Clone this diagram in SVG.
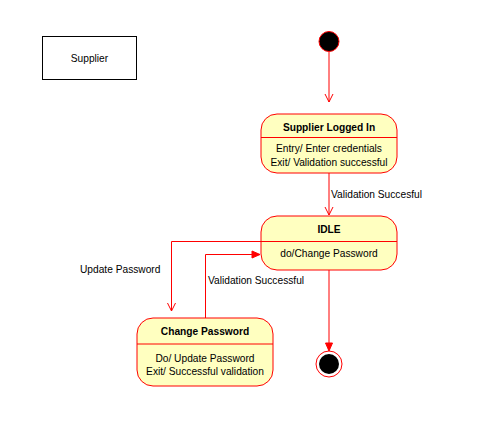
<svg xmlns="http://www.w3.org/2000/svg" width="499" height="443" viewBox="0 0 499 443">
<style>
.st{fill:#ffffc0;stroke:#ff0000;stroke-width:1}
.ln{stroke:#ff0000;stroke-width:1;fill:none}
.t{font-family:"Liberation Sans",Arial,sans-serif;font-size:10.2px;fill:#000}
.b{font-weight:bold}
.m{text-anchor:middle}
</style>
<defs>
<marker id="open" markerWidth="10" markerHeight="10" refX="9" refY="5" orient="auto" markerUnits="userSpaceOnUse">
<path d="M1,1 L9,5 L1,9" fill="none" stroke="#ff0000" stroke-width="1"/>
</marker>
<marker id="block" markerWidth="10" markerHeight="10" refX="9" refY="5" orient="auto" markerUnits="userSpaceOnUse">
<path d="M1,1.5 L9,5 L1,8.5 Z" fill="#ff0000" stroke="#ff0000" stroke-width="1"/>
</marker>
</defs>
<rect width="499" height="443" fill="#ffffff"/>
<g id="supplier">
<rect x="42.5" y="36.5" width="94" height="43" fill="#ffffff" stroke="#000000"/>
<text class="t m" x="89.5" y="62">Supplier</text>
</g>
<g id="connectors">
<path class="ln" d="M329,52 L329,102" marker-end="url(#open)"/>
<path class="ln" d="M329,173 L329,215" marker-end="url(#open)"/>
<text class="t" x="331" y="198">Validation Succesful</text>
<path class="ln" d="M261,241.5 L171.5,241.5 L171.5,311" marker-end="url(#open)"/>
<text class="t" x="80" y="273">Update Password</text>
<path class="ln" d="M205.5,318 L205.5,254.5 L260,254.5" marker-end="url(#block)"/>
<text class="t" x="208" y="284">Validation Successful</text>
<path class="ln" d="M329,270 L329,351" marker-end="url(#block)"/>
</g>
<g id="initial">
<circle cx="329" cy="41.5" r="10" fill="#000000" stroke="#ff0000"/>
</g>
<g id="supplier-logged-in">
<rect class="st" x="261" y="114" width="136" height="59" rx="16" ry="16"/>
<line class="ln" x1="261" y1="137.5" x2="397" y2="137.5"/>
<text class="t b m" x="329" y="131">Supplier Logged In</text>
<text class="t m" x="329" y="152">Entry/ Enter credentials</text>
<text class="t m" x="329" y="166">Exit/ Validation successful</text>
</g>
<g id="idle">
<rect class="st" x="261" y="216" width="136" height="54" rx="16" ry="16"/>
<line class="ln" x1="261" y1="241.5" x2="397" y2="241.5"/>
<text class="t b m" x="329" y="233">IDLE</text>
<text class="t m" x="329" y="257">do/Change Password</text>
</g>
<g id="change-password">
<rect class="st" x="137" y="318" width="136" height="68" rx="16" ry="16"/>
<line class="ln" x1="137" y1="344" x2="273" y2="344"/>
<text class="t b m" x="205" y="335">Change Password</text>
<text class="t m" x="205" y="362">Do/ Update Password</text>
<text class="t m" x="205" y="375">Exit/ Successful validation</text>
</g>
<g id="final">
<circle cx="329" cy="364" r="13" fill="#ffffff" stroke="#ff0000"/>
<circle cx="329" cy="364" r="10" fill="#000000"/>
</g>
</svg>
